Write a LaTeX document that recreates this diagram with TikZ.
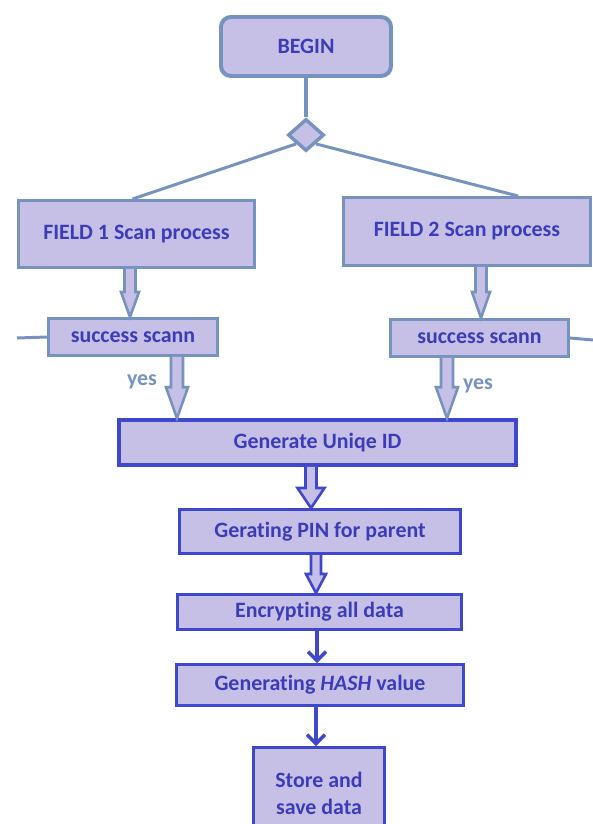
\documentclass[tikz,border=0pt]{standalone}
\usepackage{fontspec}
\setmainfont{Carlito}[Ligatures=NoCommon]
\usetikzlibrary{shapes.geometric,calc,arrows.meta}
\definecolor{boxfill}{RGB}{199,192,230}
\definecolor{steel}{RGB}{118,146,190}
\definecolor{deepblue}{RGB}{63,72,204}
\definecolor{labeltext}{RGB}{60,60,184}

\tikzset{
  base/.style={fill=boxfill, font=\fontsize{22}{27}\selectfont\bfseries,
    text=labeltext, inner sep=0pt, align=center},
  upbox/.style={base, draw=steel, line width=3pt},
  lowbox/.style={base, draw=deepblue, line width=3pt},
  link/.style={draw=steel, line width=3.5pt},
  hollow/.style={fill=boxfill, line width=2.6pt, line join=miter},
  thin/.style={draw=deepblue, line width=3.5pt,
    -{Straight Barb[length=9bp,width=18bp]}},
  yeslabel/.style={text=steel, font=\fontsize{22}{26}\selectfont\bfseries, inner sep=0pt}
}

% block arrow: #1 colour, #2 x position, #3 source node, #4 target node,
% #5 shaft half width, #6 head half width, #7 head length
\newcommand{\blockarrow}[7]{%
  \coordinate (bax) at (#2,0);
  \coordinate (bat) at (#3.south -| bax);
  \coordinate (bab) at (#4.north -| bax);
  \draw[hollow, draw=#1]
    ($(bat)+(-#5,0)$) -- ($(bab)+(-#5,-#7)$) -- ($(bab)+(-#6,-#7)$) -- (bab)
    -- ($(bab)+(#6,-#7)$) -- ($(bab)+(#5,-#7)$) -- ($(bat)+(#5,0)$);
}

\begin{document}
\begin{tikzpicture}[x=1bp,y=-1bp]
\useasboundingbox (0,0) rectangle (593,824);
\clip (0,0) rectangle (593,824);

% start and split
\node[upbox, line width=4pt, rounded corners=10bp, minimum width=170bp, minimum height=59bp]
  (begin) at (306,46.5) {BEGIN};
\node[diamond, fill=boxfill, draw=steel, line width=3.5pt, inner sep=0pt,
  minimum width=36bp, minimum height=32bp] (split) at (306,135) {};
\draw[link] (begin.south) -- (split.north);

% scan branches
\node[upbox, minimum width=236bp, minimum height=67bp] (field1) at (136.5,234) {FIELD 1 Scan process};
\node[upbox, minimum width=247bp, minimum height=68bp] (field2) at (467,231.5) {FIELD 2 Scan process};
\coordinate (f1top) at ($(field1.north)+(-4,0)$);
\coordinate (f2top) at ($(field2.north)+(51,0)$);
\draw[link, line width=3pt] (split.south west) -- (f1top);
\draw[link, line width=3pt] (split.south east) -- (f2top);

\node[upbox, minimum width=169bp, minimum height=37bp] (succ1) at (133,337) {success scann};
\node[upbox, minimum width=178bp, minimum height=37bp] (succ2) at (479.5,338) {success scann};
\coordinate (leftend) at (17,338);
\coordinate (rightend) at (593,340);
\draw[link, line width=3pt] (leftend) -- (succ1.west);
\draw[link, line width=3pt] (succ2.east) -- (rightend);

% processing chain
\node[lowbox, line width=3.5pt, minimum width=397bp, minimum height=45bp] (gen) at (317.5,442.5) {Generate Uniqe ID};
\node[lowbox, minimum width=281bp, minimum height=44bp] (pin) at (320,531.5) {Gerating PIN for parent};
\node[lowbox, minimum width=284bp, minimum height=35bp] (enc) at (319.5,612) {Encrypting all data};
\node[lowbox, minimum width=287bp, minimum height=41bp] (hash) at (320,685) {Generating \textit{HASH} value};
\node[lowbox, minimum width=131bp, minimum height=92bp] (store) at (319,793.5) {Store and\\save data};

% connectors
\blockarrow{steel}{130}{field1}{succ1}{5.5}{9}{25}
\blockarrow{steel}{481}{field2}{succ2}{5.5}{9}{26}
\blockarrow{steel}{177}{succ1}{gen}{6}{11}{31}
\blockarrow{steel}{447}{succ2}{gen}{6}{11}{31}
\blockarrow{deepblue}{311}{gen}{pin}{5.5}{13.5}{20}
\blockarrow{deepblue}{316}{pin}{enc}{5}{10}{19}

\coordinate (encx) at (317,0);
\draw[thin] (enc.south -| encx) -- (hash.north -| encx);
\coordinate (hashx) at (316,0);
\draw[thin] (hash.south -| hashx) -- (store.north -| hashx);

\node[yeslabel] (yes1) at (142,382) {yes};
\node[yeslabel] (yes2) at (478,386) {yes};
\end{tikzpicture}
\end{document}
